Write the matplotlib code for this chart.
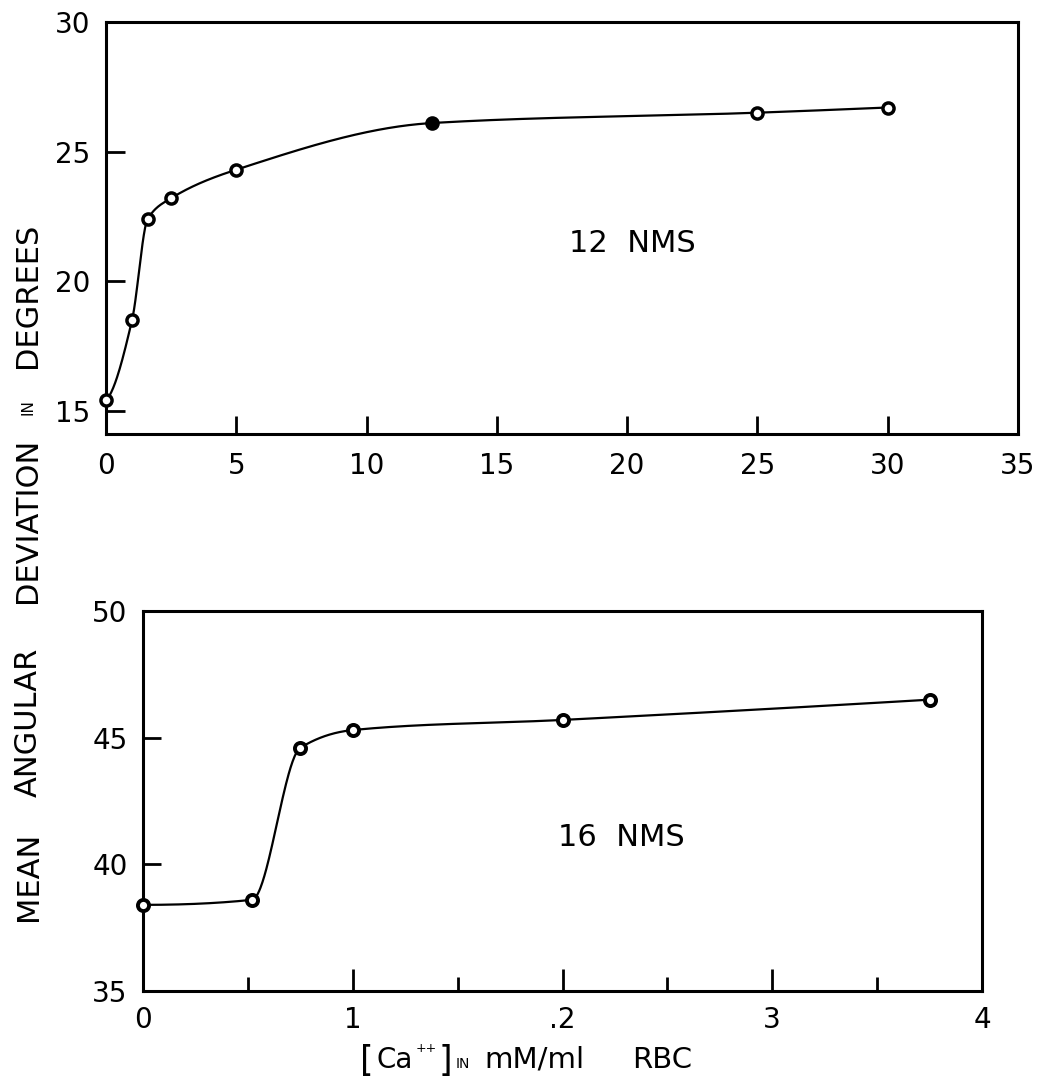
import numpy as np
import matplotlib
matplotlib.use("Agg")
import matplotlib.pyplot as plt

# ============================================================
# DONNÉES
# ============================================================

# Panneau du haut : 12 NMS, [Ca++] de 0 à 35
ca_12 = [0, 1, 1.6, 2.5, 5, 12.5, 25, 30]
dev_12 = [15.4, 18.5, 22.4, 23.2, 24.3, 26.1, 26.5, 26.7]
plein_12 = [False, False, False, False, False, True, False, False]

# Panneau du bas : 16 NMS
ca_16 = [0, 0.52, 0.75, 1.0, 2.0, 3.75]
dev_16 = [38.4, 38.6, 44.6, 45.3, 45.7, 46.5]

xticks_12 = [0, 5, 10, 15, 20, 25, 30, 35]
yticks_12 = [15, 20, 25, 30]
xticks_16 = [0, 1, 2, 3, 4]
xlabels_16 = ['0', '1', '.2', '3', '4']
xminor_16 = [0.5, 1.5, 2.5, 3.5]
yticks_16 = [35, 40, 45, 50]

W, H = 1044, 1088


def fx(px):
    return px / W


def fy(py):
    return 1 - py / H


def pchip(x, y, n=1200):
    """Courbe lisse monotone (Fritsch-Carlson) passant par les points."""
    x = np.asarray(x, float)
    y = np.asarray(y, float)
    h = np.diff(x)
    d = np.diff(y) / h
    m = np.zeros_like(y)
    for k in range(1, len(x) - 1):
        if d[k - 1] * d[k] > 0:
            w1 = 2 * h[k] + h[k - 1]
            w2 = h[k] + 2 * h[k - 1]
            m[k] = (w1 + w2) / (w1 / d[k - 1] + w2 / d[k])
    # pentes aux extrémités
    m0 = ((2 * h[0] + h[1]) * d[0] - h[0] * d[1]) / (h[0] + h[1])
    m[0] = m0 if m0 * d[0] > 0 else 0.0
    mn = ((2 * h[-1] + h[-2]) * d[-1] - h[-1] * d[-2]) / (h[-1] + h[-2])
    m[-1] = mn if mn * d[-1] > 0 else 0.0

    xs = np.linspace(x[0], x[-1], n)
    i = np.clip(np.searchsorted(x, xs) - 1, 0, len(h) - 1)
    t = (xs - x[i]) / h[i]
    h00 = 2 * t**3 - 3 * t**2 + 1
    h10 = t**3 - 2 * t**2 + t
    h01 = -2 * t**3 + 3 * t**2
    h11 = t**3 - t**2
    ys = h00 * y[i] + h10 * h[i] * m[i] + h01 * y[i + 1] + h11 * h[i] * m[i + 1]
    return xs, ys


def style_axes(ax):
    for s in ax.spines.values():
        s.set_linewidth(2.2)
    ax.tick_params(direction='in', width=2, labelsize=20, colors='black')


# ============================================================
# FIGURE
# ============================================================

fig = plt.figure(figsize=(W / 100, H / 100), dpi=100)

# --- Panneau du haut ---
ax1 = fig.add_axes([fx(106), fy(434), fx(1018) - fx(106), fy(22) - fy(434)])
style_axes(ax1)
xs, ys = pchip(ca_12, dev_12)
ax1.plot(xs, ys, color='black', lw=1.6, clip_on=False)
for x, y, p in zip(ca_12, dev_12, plein_12):
    ax1.plot(x, y, 'o', ms=8, mew=2.5, mec='black',
             mfc='black' if p else 'white', clip_on=False, zorder=5)
ax1.set_xlim(0, 35)
ax1.set_ylim(14.1, 30)
ax1.set_xticks(xticks_12)
ax1.set_yticks(yticks_12)
ax1.tick_params(axis='x', length=13, pad=13)
ax1.tick_params(axis='y', length=14, pad=11)

fig.text(fx(632), fy(243), '12  NMS', fontsize=22, ha='center', va='center')

# --- Panneau du bas ---
ax2 = fig.add_axes([fx(143), fy(991), fx(982) - fx(143), fy(611) - fy(991)])
style_axes(ax2)
xs, ys = pchip(ca_16, dev_16)
ax2.plot(xs, ys, color='black', lw=1.6, clip_on=False)
ax2.plot(ca_16, dev_16, 'o', ms=8, mew=2.8, mec='black', mfc='white',
         clip_on=False, zorder=5)
ax2.set_xlim(0, 4)
ax2.set_ylim(35, 50)
ax2.set_xticks(xticks_16)
ax2.set_xticklabels(xlabels_16)
ax2.set_xticks(xminor_16, minor=True)
ax2.set_yticks(yticks_16)
ax2.tick_params(axis='x', which='major', length=16, pad=11)
ax2.tick_params(axis='x', which='minor', direction='in', length=10, width=2)
ax2.tick_params(axis='y', length=13, pad=11)

fig.text(fx(621), fy(837), '16  NMS', fontsize=22, ha='center', va='center')

# --- Titre d'axe Y commun (mots séparés, "IN" en petit) ---
for mot, yc, taille in [('MEAN', 876, 22), ('ANGULAR', 722, 22),
                        ('DEVIATION', 520, 22), ('IN', 407, 11),
                        ('DEGREES', 295, 22)]:
    fig.text(fx(28), fy(yc), mot, fontsize=taille, rotation=90,
             ha='center', va='center')

# --- Titre d'axe X : [Ca++] IN mM/ml RBC ---
base = 1068
fig.text(fx(360), fy(base + 3), '[', fontsize=25, va='baseline')
fig.text(fx(377), fy(base), 'Ca', fontsize=20, va='baseline')
fig.text(fx(416), fy(base - 16), '++', fontsize=9, va='baseline')
fig.text(fx(439), fy(base + 3), ']', fontsize=25, va='baseline')
fig.text(fx(456), fy(base), 'IN', fontsize=10, va='baseline')
fig.text(fx(484), fy(base), 'mM/ml', fontsize=21, va='baseline')
fig.text(fx(632), fy(base), 'RBC', fontsize=21, va='baseline')

fig.savefig('out.png', dpi=100)
